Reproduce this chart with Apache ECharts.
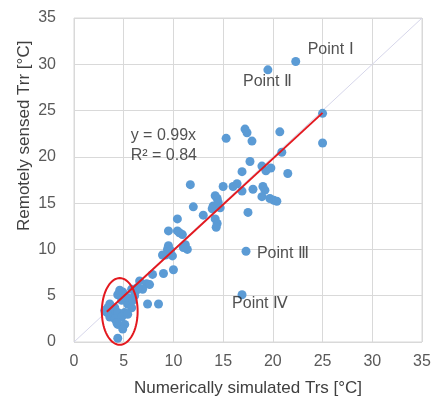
<!DOCTYPE html>
<html><head><meta charset="utf-8">
<script src="https://cdn.jsdelivr.net/npm/echarts@6/dist/echarts.min.js"></script>
<style>html,body{margin:0;padding:0;background:#fff}#c{width:436px;height:402px}</style>
</head><body><div id="c"></div>
<script>
// Observed points: numerically simulated Trs (x) vs remotely sensed Trr (y)
const simX = [22.3,19.5,25.0,25.0,17.2,17.4,17.9,15.3,20.7,20.9,17.7,18.9,19.3,19.8,16.9,21.5,
  15.0,16.0,16.4,16.9,18.0,19.0,19.2,18.9,19.7,20.1,20.4,14.2,14.4,14.5,14.0,13.9,14.7,
  17.5,13.0,11.7,12.0,14.2,14.4,14.3,10.4,9.5,10.4,10.6,10.9,11.2,11.4,11.0,
  9.5,9.4,9.7,9.2,8.9,9.9,10.0,9.0,7.9,6.6,7.3,7.6,6.9,6.3,7.4,8.5,17.3,16.9,4.4,
  4.6,4.4,5.1,4.8,3.6,3.4,4.1,5.4,5.8,3.8,4.4,5.1,3.6,4.1,4.8,5.4,4.4,5.1,4.9,4.3,3.3,3.1,5.4,5.9,4.9,6.1,6.4,6.1,5.8];
const remY = [30.3,29.4,24.7,21.5,23.0,22.6,21.7,22.0,22.7,20.5,19.5,19.0,18.5,18.8,18.4,18.2,
  16.8,16.8,17.1,16.3,16.5,16.8,16.4,15.7,15.5,15.3,15.2,15.8,15.5,15.1,14.7,14.4,14.5,
  14.0,13.7,17.0,14.6,13.3,12.8,12.4,13.3,12.0,12.0,11.8,11.6,10.5,10.0,10.2,
  10.4,10.0,9.9,9.4,9.4,9.3,7.8,7.4,7.3,6.6,6.3,6.2,5.7,5.6,4.1,4.1,9.8,5.1,0.4,
  5.6,5.1,4.8,4.5,4.1,3.7,3.7,4.1,3.7,3.0,3.2,3.2,2.7,2.5,2.7,3.0,1.9,1.9,1.4,2.1,3.2,3.4,4.8,4.5,5.4,5.0,5.9,5.6,5.7];
// Regression y = 0.99x over the data range
const slope = 0.99;
const fitRange = [3.3, 25.0];
// 1:1 line
const oneToOne = [0, 35];
// Annotations (data coords of text anchor)
const noteText = ['Point Ⅰ', 'Point Ⅱ', 'Point Ⅲ', 'Point Ⅳ', 'y = 0.99x\nR² = 0.84'];
const noteX = [23.5, 17.0, 18.4, 15.9, 5.7];
const noteY = [31.6, 28.1, 9.6, 4.1, 21.2];
// Highlight ellipse (center, radii in data units)
const ellCenter = [4.6, 3.3];
const ellRadius = [1.8, 3.6];
const xTicks = [0,5,10,15,20,25,30,35];

const points = simX.map((x,i)=>[x, remY[i]]);
const chart = echarts.init(document.getElementById('c'), null, {renderer:'canvas'});
const font = 'Liberation Sans, Arial, sans-serif';
chart.setOption({
  animation:false,
  grid:{left:74,right:14,top:18,bottom:57,show:true,borderColor:'#d9d9d9',borderWidth:1},
  xAxis:{type:'value',min:0,max:35,interval:5,
    name:'Numerically simulated Trs [°C]',nameLocation:'middle',nameGap:38,
    nameTextStyle:{fontFamily:font,fontSize:17,color:'#404040'},
    axisLine:{show:false},axisTick:{show:false},
    axisLabel:{fontFamily:font,fontSize:16,color:'#595959',margin:12},
    splitLine:{lineStyle:{color:'#d9d9d9',width:1}}},
  yAxis:{type:'value',min:0,max:35,interval:5,
    axisLine:{show:false},axisTick:{show:false},
    axisLabel:{fontFamily:font,fontSize:16,color:'#595959',margin:18},
    splitLine:{lineStyle:{color:'#d9d9d9',width:1}}},
  graphic:[{type:'text',x:16,y:231,rotation:Math.PI/2,
    style:{text:'Remotely sensed Trr [°C]',font:'17px '+font,fill:'#404040'}}],
  series:[
    {type:'line',data:oneToOne.map(v=>[v,v]),symbol:'none',silent:true,
      lineStyle:{color:'#d6d6ea',width:1},z:1},
    {type:'scatter',data:points,symbolSize:9,itemStyle:{color:'#5b9bd5',opacity:1},z:3},
    {type:'line',data:fitRange.map(v=>[v,v*slope]),symbol:'none',
      lineStyle:{color:'#e3191f',width:2},z:4},
    {type:'custom',z:5,silent:true,data:[[ellCenter[0],ellCenter[1]]],clip:false,
      renderItem:function(params,api){
        const pts=[];
        for(let k=0;k<=72;k++){const a=k/72*Math.PI*2;
          pts.push(api.coord([ellCenter[0]+ellRadius[0]*Math.cos(a), ellCenter[1]+ellRadius[1]*Math.sin(a)]));}
        return {type:'polyline',shape:{points:pts},style:{stroke:'#e3191f',lineWidth:2,fill:null}};
      }},
    {type:'scatter',symbolSize:0,silent:true,z:6,
      data:noteText.map((t,i)=>({value:[noteX[i],noteY[i]],name:t})),
      label:{show:true,position:'right',distance:0,formatter:p=>p.name,
        fontFamily:font,fontSize:16,color:'#262626',lineHeight:20,align:'left'}}
  ]
});
</script></body></html>
